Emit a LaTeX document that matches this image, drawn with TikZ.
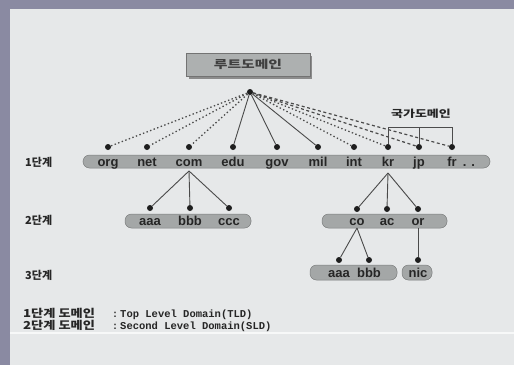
\documentclass[tikz,border=0pt]{standalone}
\usepackage{fontspec}
\usepackage{graphicx}
\setmainfont{Liberation Sans}
\newfontfamily\kr{Noto Sans CJK KR}
\newfontfamily\mono{Liberation Mono}
\definecolor{frame}{HTML}{8A8AA2}
\definecolor{paper}{HTML}{E6E8E9}
\definecolor{barc}{HTML}{A4A7A7}
\definecolor{dotc}{HTML}{1E1E1E}
\definecolor{linec}{HTML}{4A4A4A}
\definecolor{txt}{HTML}{262626}
\tikzset{
  dotn/.style={circle,fill=dotc,inner sep=0,minimum size=6pt},
  barn/.style={rounded corners=6.5pt,fill=barc,draw=barc!75!black,line width=0.5pt,inner sep=0},
  lbl/.style={font=\bfseries\fontsize{13}{13}\selectfont,text=txt,inner sep=0,anchor=base},
  conn/.style={draw=linec,line width=0.9pt},
  dotl/.style={conn,line width=1.3pt,dash pattern=on 1.4pt off 2.4pt},
  dashl/.style={conn,line width=1.2pt,dash pattern=on 3pt off 2.6pt},
  stage/.style={font=\kr\bfseries\fontsize{11}{11}\selectfont,text=txt,anchor=west,inner sep=0},
  note/.style={text=txt,anchor=base west,inner sep=0},
}
\begin{document}
\begin{tikzpicture}[x=1pt,y=-1pt]
\useasboundingbox (0,0) rectangle (514,365);
\fill[frame] (0,0) rectangle (514,365);
\fill[paper] (10,9) rectangle (514,365);
\draw[white,line width=1.2pt,opacity=0.7] (10,333) -- (514,333);

% root box
\fill[black!45] (189,56) rectangle (312,79);
\node[fill=barc!90!white,draw=black!55,line width=0.5pt,minimum width=124pt,minimum height=23pt,inner sep=0,
  font=\kr\bfseries\fontsize{11}{11}\selectfont,text=black!75] (rootbox) at (248,64.5)
  {\scalebox{1.35}[1]{루트도메인}};
\node[dotn] (root) at (250,92) {};

% level 1
\node[barn,minimum width=407pt,minimum height=13pt] (bar1) at (286.5,161.5) {};
\foreach \n/\x in {org/108,net/147,com/189,edu/233,gov/277,mil/318,int/354,kr/388,jp/419,fr/452}{
  \node[dotn] (d-\n) at (\x,147) {};
  \node[lbl] (t-\n) at (\x,166) {\n};
}
\node[lbl] (t-more) at (469,166) {. .};
\foreach \n in {org,net,com,int,kr}{ \draw[dotl] (root) -- (d-\n); }
\foreach \n in {jp,fr}{ \draw[dashl] (root) -- (d-\n); }
\foreach \n in {edu,gov,mil}{ \draw[conn] (root) -- (d-\n); }

% country bracket
\node[font=\kr\bfseries\fontsize{10}{10}\selectfont,text=txt,inner sep=0] (cc) at (421,114)
  {\scalebox{1.3}[1]{국가도메인}};
\coordinate (bk) at (388,127);
\coordinate (bj) at (419,127);
\coordinate (bf) at (452,127);
\draw[conn,draw=black!70] (d-kr) -- (bk) -- (bf) -- (d-fr);
\draw[conn,draw=black!70] (bj) -- (d-jp);

% level 2 under com
\node[barn,minimum width=126pt,minimum height=14pt] (bar2a) at (188,221) {};
\coordinate (comapex) at (189,171);
\foreach \n/\x in {aaa/150,bbb/190,ccc/229}{
  \node[dotn] (d2-\n) at (\x,208) {};
  \node[lbl] (t2-\n) at (\x,225) {\n};
  \draw[conn] (comapex) -- (d2-\n);
}

% level 2 under kr
\node[barn,minimum width=125pt,minimum height=14pt] (bar2b) at (384.5,221) {};
\coordinate (krapex) at (388,173);
\foreach \n/\x in {co/357,ac/387,or/418}{
  \node[dotn] (d2-\n) at (\x,209) {};
  \node[lbl] (t2-\n) at (\x,225) {\n};
  \draw[conn] (krapex) -- (d2-\n);
}

% level 3
\node[barn,minimum width=87pt,minimum height=15pt] (bar3a) at (353.5,272.5) {};
\node[barn,minimum width=30pt,minimum height=15pt] (bar3b) at (417,272.5) {};
\coordinate (coapex) at (357,228);
\coordinate (orfoot) at (418,228);
\node[dotn] (d3-aaa) at (339,260) {};
\node[dotn] (d3-bbb) at (369,260) {};
\node[dotn] (d3-nic) at (418,260) {};
\node[lbl] (t3-aaa) at (339,277) {aaa};
\node[lbl] (t3-bbb) at (369,277) {bbb};
\node[lbl] (t3-nic) at (418,277) {nic};
\draw[conn] (coapex) -- (d3-aaa);
\draw[conn] (coapex) -- (d3-bbb);
\draw[conn] (orfoot) -- (d3-nic);

% stage labels
\node[stage] (s1) at (25,162) {1단계};
\node[stage] (s2) at (25,220) {2단계};
\node[stage] (s3) at (25,275) {3단계};

% notes
\node[note] (n1) at (23,317.5) {\makebox[89pt][l]{\kr\bfseries\fontsize{11}{11}\selectfont\scalebox{1.2}[1]{1단계 도메인}}\makebox[8pt][l]{\mono\bfseries\fontsize{10}{10}\selectfont :}{\mono\bfseries\fontsize{10.5}{10}\selectfont Top Level Domain(TLD)}};
\node[note] (n2) at (23,329) {\makebox[89pt][l]{\kr\bfseries\fontsize{11}{11}\selectfont\scalebox{1.2}[1]{2단계 도메인}}\makebox[8pt][l]{\mono\bfseries\fontsize{10}{10}\selectfont :}{\mono\bfseries\fontsize{10.5}{10}\selectfont Second Level Domain(SLD)}};
\end{tikzpicture}
\end{document}
